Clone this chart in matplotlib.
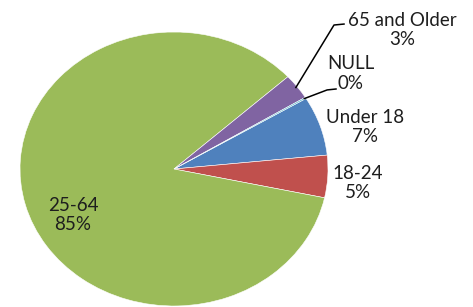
import numpy as np
import matplotlib
matplotlib.use("Agg")
import matplotlib.pyplot as plt

# data (clockwise order, as in the original spreadsheet)
groups = ["Under 18", "18-24", "25-64", "65 and Older", "NULL"]
shares = [7.0, 5.0, 85.0, 3.0, 0.15]
pct_labels = ["7%", "5%", "85%", "3%", "0%"]
colors = ["#4F81BD", "#C0504D", "#9BBB59", "#8064A2", "#4BACC6"]

plt.rcParams['font.family'] = ['Lato', 'DejaVu Sans']

fig = plt.figure(figsize=(4.73, 3.07), dpi=100)
ax = fig.add_axes([0, 0, 1, 1])

wedges, _ = ax.pie(shares, colors=colors, startangle=31, counterclock=False,
                   radius=1.0, wedgeprops=dict(edgecolor="white", linewidth=0.4))

# stretched pie like the original (wider than tall)
ax.set_aspect('auto')
ax.set_xlim(-174 / 154, (473 - 174) / 154)
ax.set_ylim(-138 / 137, 169 / 137)
ax.axis('off')

# label positions (data units)
label_pos = {
    "Under 18": (1.24, 0.307),
    "18-24": (1.195, -0.102),
    "25-64": (-0.656, -0.336),
    "65 and Older": (1.48, 1.015),
    "NULL": (1.149, 0.70),
}
# leader lines: elbow and end points for small slices
leaders = {
    "65 and Older": [(1.039, 1.051), (1.104, 1.058)],
    "NULL": [(0.994, 0.577), (1.052, 0.584)],
}

for w, name, pct in zip(wedges, groups, pct_labels):
    x, y = label_pos[name]
    ax.text(x, y, f"{name}\n{pct}", ha='center', va='center', fontsize=13.5,
            color="#1e1e1e", linespacing=1.2)
    if name in leaders:
        mid = np.deg2rad((w.theta1 + w.theta2) / 2)
        pts = [(0.99 * np.cos(mid), 0.99 * np.sin(mid))] + leaders[name]
        xs, ys = zip(*pts)
        ax.plot(xs, ys, color="black", linewidth=1.1)

fig.savefig("out.png", dpi=100)
